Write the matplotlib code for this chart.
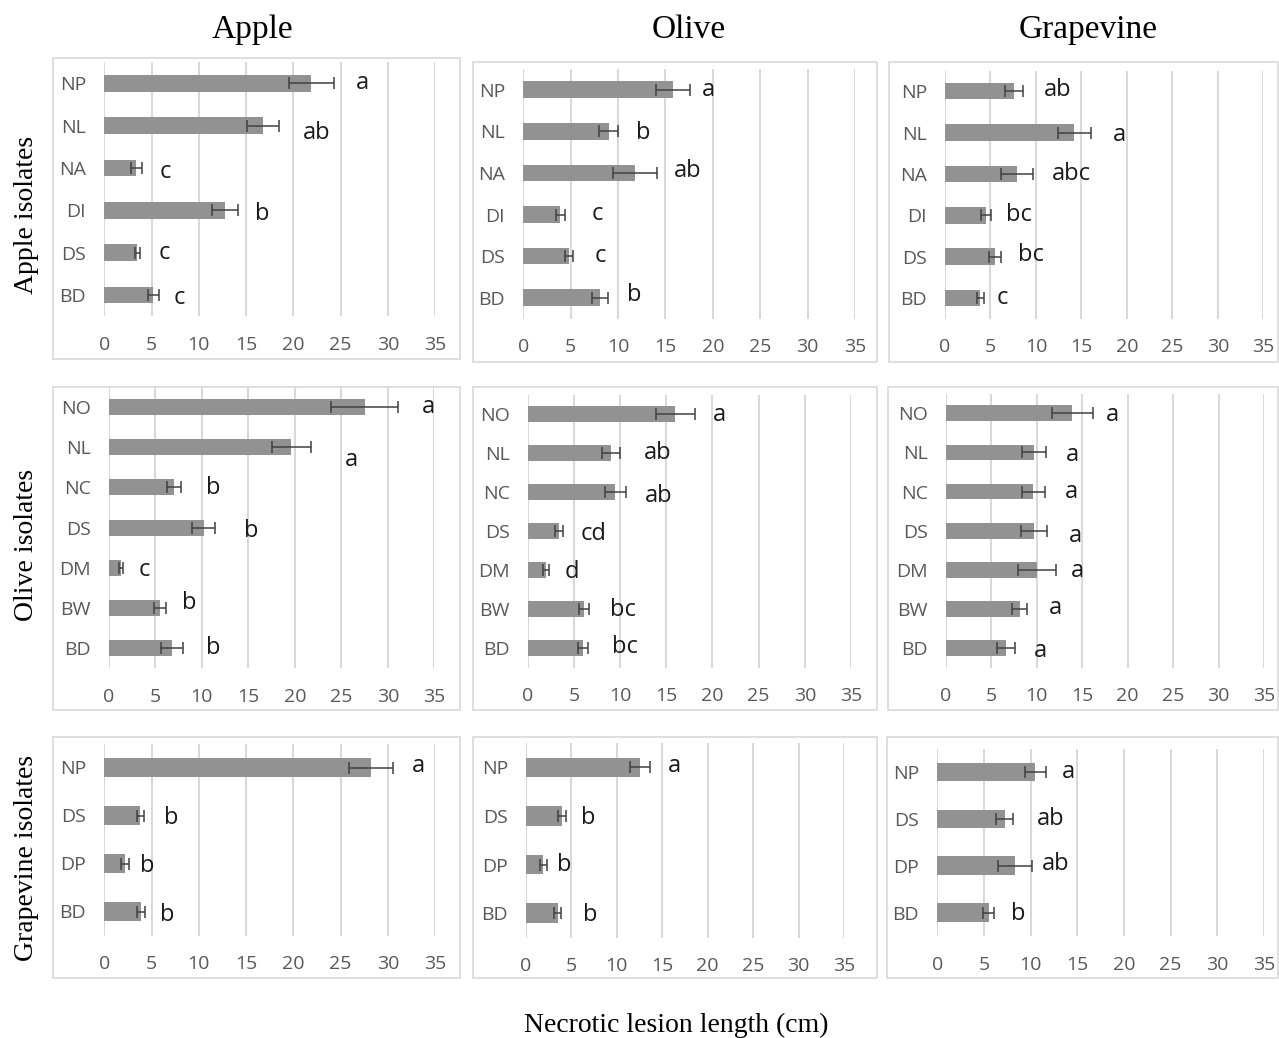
import numpy as np
import matplotlib.pyplot as plt
from matplotlib.patches import Rectangle

plt.rcParams['font.family'] = ['Open Sans', 'DejaVu Sans']

hosts = ['Apple', 'Olive', 'Grapevine']
row_titles = ['Apple isolates', 'Olive isolates', 'Grapevine isolates']

# isolates (y categories) per row
apple_isolates = ['NP', 'NL', 'NA', 'DI', 'DS', 'BD']
olive_isolates = ['NO', 'NL', 'NC', 'DS', 'DM', 'BW', 'BD']
grape_isolates = ['NP', 'DS', 'DP', 'BD']

# lesion length (cm), mean and standard error, for each host
apple_on_apple = [21.9, 16.8, 3.4, 12.8, 3.5, 5.2]
apple_on_apple_se = [2.4, 1.7, 0.6, 1.4, 0.3, 0.55]
apple_on_olive = [15.8, 9.0, 11.8, 3.9, 4.8, 8.1]
apple_on_olive_se = [1.75, 1.0, 2.35, 0.45, 0.45, 0.8]
apple_on_grape = [7.6, 14.2, 7.9, 4.5, 5.5, 3.9]
apple_on_grape_se = [0.95, 1.8, 1.75, 0.55, 0.65, 0.4]

olive_on_apple = [27.5, 19.6, 7.0, 10.2, 1.3, 5.5, 6.8]
olive_on_apple_se = [3.6, 2.1, 0.75, 1.25, 0.2, 0.68, 1.15]
olive_on_olive = [16.0, 9.0, 9.5, 3.4, 2.0, 6.1, 6.0]
olive_on_olive_se = [2.15, 1.0, 1.1, 0.47, 0.32, 0.57, 0.58]
olive_on_grape = [13.9, 9.7, 9.6, 9.7, 10.0, 8.1, 6.6]
olive_on_grape_se = [2.25, 1.3, 1.25, 1.43, 2.1, 0.85, 1.0]

grape_on_apple = [28.2, 3.8, 2.2, 3.9]
grape_on_apple_se = [2.35, 0.35, 0.38, 0.42]
grape_on_olive = [12.6, 4.0, 1.9, 3.5]
grape_on_olive_se = [1.1, 0.44, 0.37, 0.37]
grape_on_grape = [10.5, 7.2, 8.3, 5.5]
grape_on_grape_se = [1.1, 0.95, 1.8, 0.57]

# significance letters
apple_letters = [['a', 'ab', 'c', 'b', 'c', 'c'],
                 ['a', 'b', 'ab', 'c', 'c', 'b'],
                 ['ab', 'a', 'abc', 'bc', 'bc', 'c']]
olive_letters = [['a', 'a', 'b', 'b', 'c', 'b', 'b'],
                 ['a', 'ab', 'ab', 'cd', 'd', 'bc', 'bc'],
                 ['a', 'a', 'a', 'a', 'a', 'a', 'a']]
grape_letters = [['a', 'b', 'b', 'b'],
                 ['a', 'b', 'b', 'b'],
                 ['a', 'ab', 'ab', 'b']]

rows = [
    (apple_isolates, [(apple_on_apple, apple_on_apple_se), (apple_on_olive, apple_on_olive_se),
                      (apple_on_grape, apple_on_grape_se)], apple_letters),
    (olive_isolates, [(olive_on_apple, olive_on_apple_se), (olive_on_olive, olive_on_olive_se),
                      (olive_on_grape, olive_on_grape_se)], olive_letters),
    (grape_isolates, [(grape_on_apple, grape_on_apple_se), (grape_on_olive, grape_on_olive_se),
                      (grape_on_grape, grape_on_grape_se)], grape_letters),
]

# where the letters sit (x in cm, y shift in category units), hand placed like the original
letter_x = [
    [[27.3, 22.5, 6.5, 16.7, 6.4, 7.9], [19.5, 12.7, 17.3, 7.8, 8.1, 11.7], [12.35, 19.2, 13.9, 8.1, 9.4, 6.3]],
    [[34.4, 26.1, 11.2, 15.3, 3.8, 8.7, 11.2], [20.8, 14.1, 14.2, 7.1, 4.8, 10.35, 10.5],
     [18.3, 13.9, 13.8, 14.2, 14.45, 12.0, 10.4]],
    [[33.2, 7.1, 4.5, 6.7], [16.3, 6.9, 4.2, 7.1], [14.0, 12.15, 12.7, 8.7]],
]
letter_dy = [
    [[0, 0.18, 0.1, 0.09, 0, 0.08], [0, 0.04, -0.04, 0, 0, -0.06], [-0.02, 0.05, 0, 0, -0.03, 0]],
    [[0, 0.33, 0.02, 0.08, 0.06, -0.12, 0], [0.03, 0, 0.09, 0.06, 0.04, 0.03, -0.04],
     [0.05, 0.08, 0, 0.13, 0.03, -0.03, 0.06]],
    [[-0.04, 0.06, 0.06, 0.07], [-0.04, 0.05, 0, 0.04], [0, 0, -0.03, 0.03]],
]

W, H = 1279, 1038
# plot areas in pixels: left, right, top, bottom
axes_px = [
    [(104.3, 435, 62.1, 316.2), (523.3, 855, 68.9, 318.5), (945, 1263.3, 70.5, 318.7)],
    [(108.7, 434.3, 386.9, 668.4), (527.7, 851, 394.7, 667.8), (946, 1264, 393.6, 667.8)],
    [(104.3, 435, 743.5, 935.5), (526, 844, 743.2, 937.5), (937.3, 1264, 748.5, 936.3)],
]
# frames around each chart
boxes_px = [
    [(53.3, 459.5, 58.3, 359), (473.3, 877, 61.7, 361.7), (889, 1278, 61.7, 361.7)],
    [(53.3, 459.5, 386.7, 710), (473.3, 877, 387, 710), (888.3, 1278, 387, 710)],
    [(53.3, 459.5, 736.7, 978), (473.3, 877, 737, 978), (887, 1278, 737, 978)],
]

fig = plt.figure(figsize=(W / 100, H / 100), dpi=100)

for r, (cats, series, letters) in enumerate(rows):
    for c in range(3):
        bx0, bx1, by0, by1 = boxes_px[r][c]
        fig.patches.append(Rectangle((bx0 / W, 1 - by1 / H), (bx1 - bx0) / W, (by1 - by0) / H,
                                     transform=fig.transFigure, fill=False,
                                     edgecolor='#d9d9d9', linewidth=1.2))
        x0, x1, y0, y1 = axes_px[r][c]
        ax = fig.add_axes([x0 / W, 1 - y1 / H, (x1 - x0) / W, (y1 - y0) / H])
        means, se = series[c]
        y = np.arange(len(cats))
        ax.barh(y, means, height=0.4, color='#929292', zorder=2)
        ax.errorbar(means, y, xerr=se, fmt='none', ecolor='#404040', elinewidth=1.1,
                    capsize=4, capthick=1.1, zorder=3)
        for i in range(len(cats)):
            ax.text(letter_x[r][c][i], y[i] + letter_dy[r][c][i], letters[c][i],
                    ha='center', va='center', fontsize=17, color='#1a1a1a')
        ax.set_xlim(0, 35)
        ax.set_ylim(len(cats) - 0.5, -0.5)
        ax.set_xticks(np.arange(0, 36, 5))
        ax.set_yticks(y)
        ax.set_yticklabels(cats)
        ax.grid(axis='x', color='#d9d9d9', linewidth=1.5, zorder=0)
        ax.set_axisbelow(True)
        for s in ax.spines.values():
            s.set_visible(False)
        ax.tick_params(length=0, labelsize=14, labelcolor='#595959')
        ax.tick_params(axis='x', pad=14)
        ax.tick_params(axis='y', pad=13)

serif = 'Liberation Serif'
for c, (name, xc) in enumerate(zip(hosts, [252, 689, 1088])):
    fig.text(xc / W, 1 - 30 / H, name, ha='center', va='center', fontsize=24, family=serif)
for r, (name, yc) in enumerate(zip(row_titles, [215, 545, 858])):
    fig.text(27 / W, 1 - yc / H, name, ha='center', va='center', rotation=90, fontsize=20, family=serif)
fig.text(676 / W, 1 - 1025 / H, 'Necrotic lesion length (cm)', ha='center', va='center',
         fontsize=20, family=serif)

fig.savefig('out.png', dpi=100)
